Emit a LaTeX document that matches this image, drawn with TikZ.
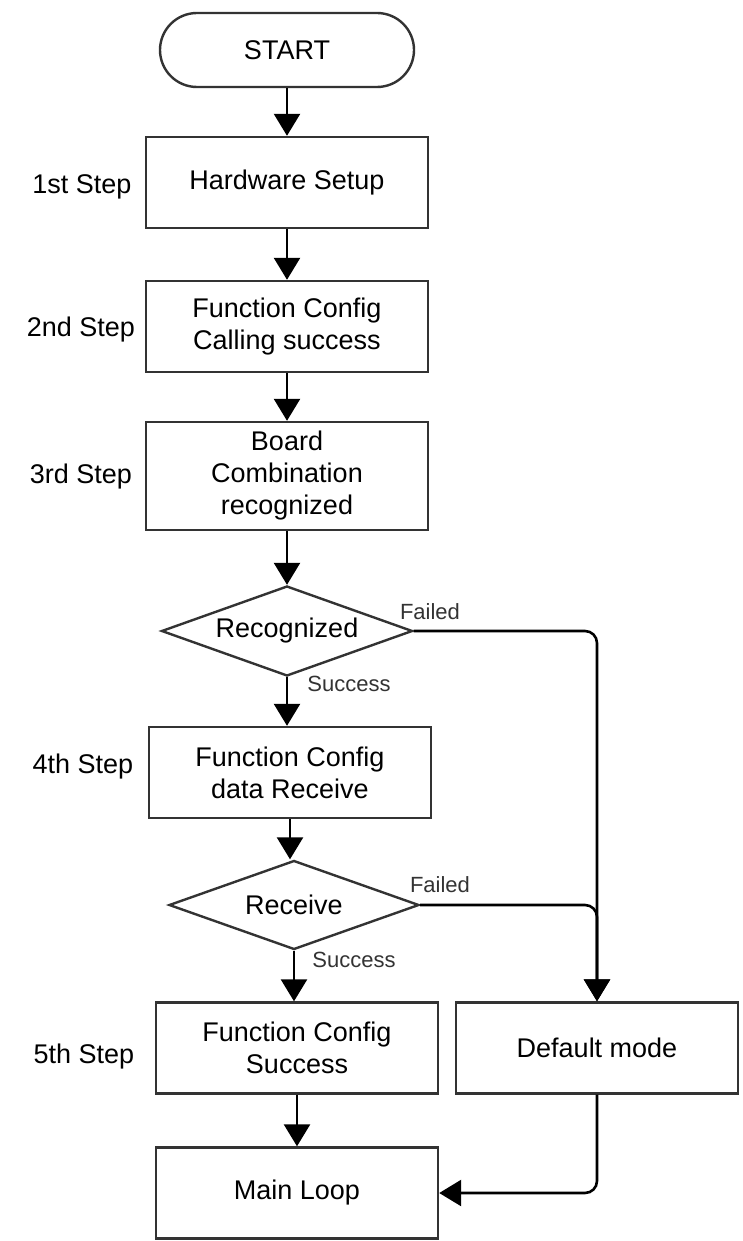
\documentclass[tikz,border=0pt]{standalone}
\usepackage{fontspec}
\setmainfont{Liberation Sans}
\usetikzlibrary{shapes.geometric,arrows.meta}
\begin{document}
\begin{tikzpicture}[x=0.5pt,y=-0.5pt,
    txt/.style={font=\fontsize{13.5}{16}\selectfont},
    box/.style={rectangle,draw=black!80,line width=1.2pt,align=center,txt,
      minimum width=141pt,minimum height=45.5pt,inner sep=0pt},
    decision/.style={diamond,aspect=2.8,draw=black!80,line width=1.2pt,txt,
      inner sep=0pt,minimum width=125pt,minimum height=44.5pt},
    flow/.style={draw,line width=1.3pt,-{Triangle[width=13pt,length=11pt]}},
    branch/.style={font=\fontsize{11}{13}\selectfont,text=black!80}]

      \useasboundingbox (0,0) rectangle (743,1241);

      \begin{scope}[every node/.style={box}]
        \node[rounded corners=18.5pt,minimum width=127pt,minimum height=37pt]
                         (start)  at (287,50)    {START};
        \node            (hw)     at (287,182.5) {Hardware Setup};
        \node            (cfg)    at (287,326.5) {Function Config\\Calling success};
        \node[minimum height=54pt]
                         (board)  at (287,476)   {Board\\Combination\\recognized};
        \node            (recv)   at (290,772.5) {Function Config\\data Receive};
        \node            (fcs)    at (297,1048)  {Function Config\\Success};
        \node            (dflt)   at (597,1048)  {Default mode};
        \node            (main)   at (297,1193)  {Main Loop};
      \end{scope}

      \node[decision,minimum width=125.5pt,minimum height=45pt]
                         (recog)  at (287,631)   {Recognized};
      \node[decision]    (recvd)  at (294,905)   {Receive};

      \begin{scope}[every node/.style={txt}]
        \node (s1) at (82,187)  {1st Step};
        \node (s2) at (81,330)  {2nd Step};
        \node (s3) at (81,477)  {3rd Step};
        \node (s4) at (83,767)  {4th Step};
        \node (s5) at (84,1057) {5th Step};
      \end{scope}

      \begin{scope}[every node/.style={branch}]
        \node (f1) at (430,612) {Failed};
        \node (f2) at (440,885) {Failed};
        \node (ok1) at (349,684) {Success};
        \node (ok2) at (354,960) {Success};
      \end{scope}

      \begin{scope}[every edge/.style={flow}]
        \path (start) edge (hw);
        \path (hw)    edge (cfg);
        \path (cfg)   edge (board);
        \path (board) edge (recog);
        \path (recog.south) edge (recog.south |- recv.north);
        \path (recv.south)  edge (recv.south |- recvd.north);
        \path (recvd.south) edge (recvd.south |- fcs.north);
        \path (fcs)   edge (main);
      \end{scope}

      \begin{scope}[rounded corners=6pt]
        \draw[flow] (recog.east) -| (dflt.north);
        \draw[flow] (recvd.east) -| (dflt.north);
        \draw[flow] (dflt.south) |- (main.east);
      \end{scope}

    \end{tikzpicture}
\end{document}
